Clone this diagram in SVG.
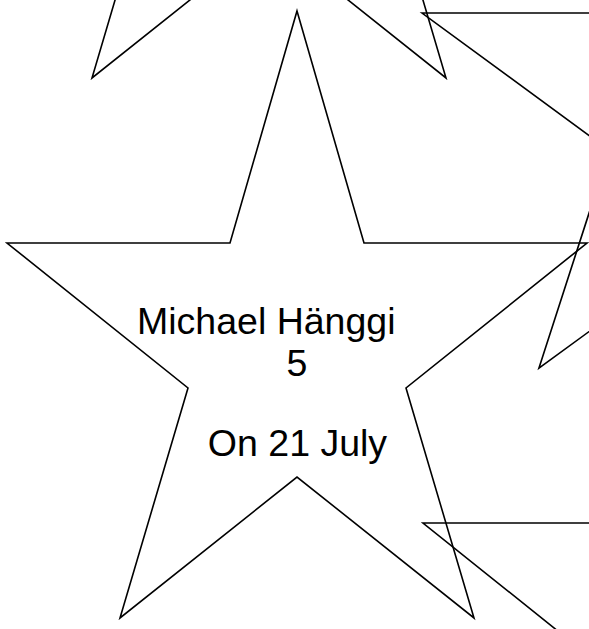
<svg xmlns="http://www.w3.org/2000/svg" width="589" height="629" viewBox="0 0 589 629">
<defs>
<style>
.star{fill:none;stroke:#000;stroke-width:1.6;stroke-linejoin:miter}
.t{font-family:"Liberation Sans",Arial,sans-serif;font-size:37.5px;fill:#000}
</style>
<polygon id="starShape" points="297,11 364,243 587,243 406,388 474,618 297,477 120,618 188,388 7,243 230,243"/>
</defs>
<rect width="589" height="629" fill="#fff"/>
<g id="star-top">
<use href="#starShape" class="star" transform="translate(-28,-540)"/>
</g>
<g id="star-right">
<use href="#starShape" class="star" transform="translate(422,13) scale(1.035,0.947) translate(-7,-243)"/>
</g>
<g id="star-bottom-right">
<use href="#starShape" class="star" transform="translate(416,280)"/>
</g>
<g id="star-main">
<use href="#starShape" class="star"/>
<text class="t" x="137" y="334">Michael Hänggi</text>
<text class="t" x="297" y="376" text-anchor="middle">5</text>
<text class="t" x="297.5" y="456" text-anchor="middle">On 21 July</text>
</g>
<g id="connectors"/>
</svg>
